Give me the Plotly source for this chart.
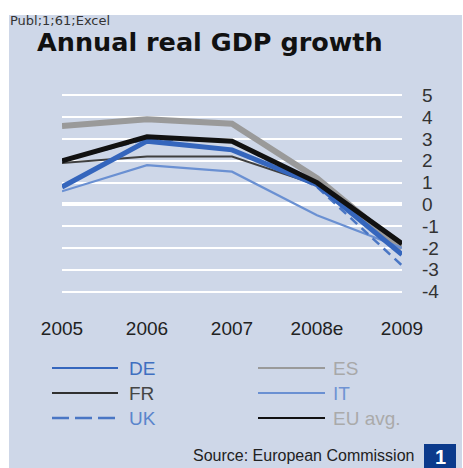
import plotly.graph_objects as go

# ---- data ----
years = ["2005", "2006", "2007", "2008e", "2009"]
es = [3.6, 3.9, 3.7, 1.2, -2.0]
fr = [1.9, 2.2, 2.2, 0.9, -1.8]
it = [0.6, 1.8, 1.5, -0.5, -2.0]
uk = [2.0, 3.0, 2.9, 0.8, -2.8]
de = [0.8, 2.9, 2.5, 0.9, -2.3]
eu = [2.0, 3.1, 2.9, 1.0, -1.8]
y_ticks = [5, 4, 3, 2, 1, 0, -1, -2, -3, -4]
y_tick_text = ["5", "4", "3", "2", "1", "0", "-1", "-2", "-3", "-4"]

# name, values, line colour, width, dash, legend text colour
series = [
    ("ES", es, "#9A9A9A", 6, "solid", "#A8A8A8"),
    ("FR", fr, "#404040", 2, "solid", "#454545"),
    ("IT", it, "#6A90D2", 2.2, "solid", "#6F93D3"),
    ("UK", uk, "#4A76C4", 2.5, "dash", "#5A85CC"),
    ("DE", de, "#3566BD", 5, "solid", "#3F6FC0"),
    ("EU avg.", eu, "#111111", 5, "solid", "#AAAAAA"),
]
legend_layout = {  # name: (column, row)
    "DE": (0, 0), "FR": (0, 1), "UK": (0, 2),
    "ES": (1, 0), "IT": (1, 1), "EU avg.": (1, 2),
}
legend_line_px = {"DE": "#3566BD", "FR": "#303030", "UK": "#4A76C4",
                  "ES": "#9A9A9A", "IT": "#6A90D2", "EU avg.": "#111111"}

W, H = 463, 468
L, R, T, B = 62, 61, 91, 172
PW, PH = W - L - R, H - T - B

def px(x):
    return (x - L) / PW

def py(y):
    return (H - B - y) / PH

BG = "#CED7E8"
FONT = "Liberation Sans, Arial, sans-serif"
TFONT = "DejaVu Sans"

fig = go.Figure()
xs = list(range(len(years)))
for name, vals, col, w, dash, _ in series:
    fig.add_trace(go.Scatter(x=xs, y=vals, mode="lines", name=name,
                             line=dict(color=col, width=w, dash=dash if dash == "solid" else "9px,6px"),
                             showlegend=False, hoverinfo="skip"))

shapes = [
    dict(type="rect", xref="paper", yref="paper", x0=px(9), x1=px(462), y0=py(15), y1=py(468),
         fillcolor=BG, line=dict(width=0), layer="below"),
    dict(type="rect", xref="paper", yref="paper", x0=px(424), x1=px(456), y0=py(444), y1=py(468),
         fillcolor="#0B3A8C", line=dict(width=0), layer="above"),
]
annotations = [
    dict(text="Publ;1;61;Excel", x=px(8), y=py(21), xref="paper", yref="paper",
         xanchor="left", yanchor="middle", showarrow=False,
         font=dict(family=TFONT, size=13, color="#333333")),
    dict(text="<b>Annual real GDP growth</b>", x=px(35), y=py(42), xref="paper", yref="paper",
         xanchor="left", yanchor="middle", showarrow=False,
         font=dict(family=TFONT, size=25.5, color="#111111")),
    dict(text="Source: European Commission", x=px(416), y=py(455), xref="paper", yref="paper",
         xanchor="right", yanchor="middle", showarrow=False,
         font=dict(family=FONT, size=16, color="#222222")),
    dict(text="<b>1</b>", x=px(440), y=py(457), xref="paper", yref="paper",
         xanchor="center", yanchor="middle", showarrow=False,
         font=dict(family=FONT, size=20, color="#FFFFFF")),
]

col_x = [(52, 118, 127), (258, 325, 331)]
row_y = [368, 393, 418]
for name, vals, col, w, dash, tcol in series:
    c, r = legend_layout[name]
    x0, x1, xt = col_x[c]
    yy = row_y[r]
    shapes.append(dict(type="line", xref="paper", yref="paper", x0=px(x0), x1=px(x1),
                       y0=py(yy), y1=py(yy),
                       line=dict(color=legend_line_px[name], width=2.5 if name == "UK" else 2,
                                 dash="17px,6px" if dash == "dash" else "solid")))
    annotations.append(dict(text=name, x=px(xt), y=py(yy), xref="paper", yref="paper",
                            xanchor="left", yanchor="middle", showarrow=False,
                            font=dict(family=FONT, size=19, color=tcol)))

fig.update_layout(
    width=W, height=H,
    margin=dict(l=L, r=R, t=T, b=B, pad=0),
    paper_bgcolor="#FFFFFF",
    plot_bgcolor="rgba(0,0,0,0)",
    shapes=shapes, annotations=annotations,
    showlegend=False,
    xaxis=dict(range=[0, len(years) - 1], tickvals=xs, ticktext=years,
               showgrid=False, zeroline=False, showline=False,
               ticks="", ticklabelstandoff=19,
               tickfont=dict(family=FONT, size=19, color="#222222"),
               fixedrange=True),
    yaxis=dict(range=[-4.2, 5.2], tickvals=y_ticks, ticktext=y_tick_text, side="right",
               showgrid=True, gridcolor="#FFFFFF", gridwidth=2,
               zeroline=True, zerolinecolor="#FFFFFF", zerolinewidth=3.5,
               showline=False, ticks="", ticklabelstandoff=19,
               tickfont=dict(family=FONT, size=19, color="#333333"),
               fixedrange=True),
)

fig.write_html("out.html")
